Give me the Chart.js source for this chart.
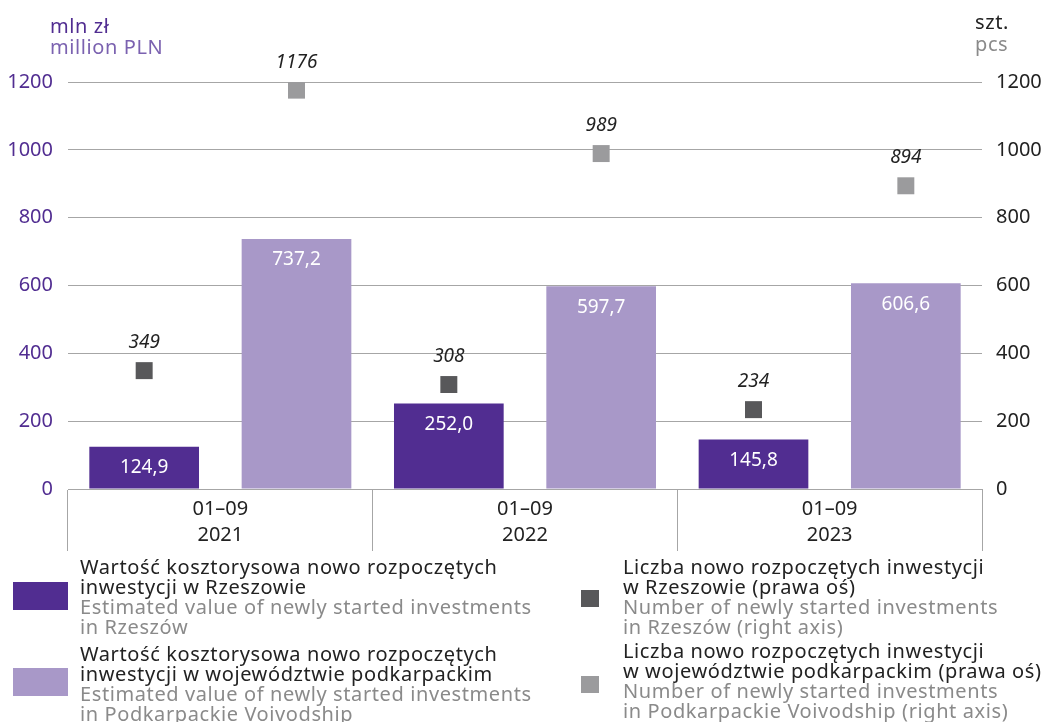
<!DOCTYPE html>
<html>
<head>
<meta charset="utf-8">
<script src="https://cdn.jsdelivr.net/npm/chart.js@4"></script>
<style>
    body { margin: 0; background: #fff; font-family: "Noto Sans", sans-serif; }
    #wrap { position: relative; width: 1043px; height: 722px; overflow: hidden; }
    #chart { position: absolute; left: 0; top: 0; }
    .t { position: absolute; font-size: 20px; line-height: 20px; white-space: nowrap; letter-spacing: 0.6px; }
    .pl { color: #222; }
    .en { color: #8a8a8a; }
    .sw { position: absolute; }
</style>
</head>
<body>
<div id="wrap">
    <canvas id="chart" width="1043" height="560"></canvas>

    <div class="t" style="left:50px; top:16px; color:#512d91;">mln zł</div>
    <div class="t" style="left:50px; top:37px; color:#7b62b0;">million PLN</div>
    <div class="t" style="left:975px; top:12px; color:#222;">szt.</div>
    <div class="t" style="left:975px; top:34px; color:#8a8a8a;">pcs</div>

    <div class="sw" style="left:13px; top:582px; width:55px; height:28px; background:#512d91;"></div>
    <div class="t" style="left:80px; top:557px;">
        <div class="pl">Wartość kosztorysowa nowo rozpoczętych</div>
        <div class="pl">inwestycji w Rzeszowie</div>
        <div class="en">Estimated value of newly started investments</div>
        <div class="en">in Rzeszów</div>
    </div>

    <div class="sw" style="left:13px; top:668px; width:55px; height:28px; background:#a898c8;"></div>
    <div class="t" style="left:80px; top:644px;">
        <div class="pl">Wartość kosztorysowa nowo rozpoczętych</div>
        <div class="pl">inwestycji w województwie podkarpackim</div>
        <div class="en">Estimated value of newly started investments</div>
        <div class="en">in Podkarpackie Voivodship</div>
    </div>

    <div class="sw" style="left:581px; top:590px; width:18px; height:17px; background:#58585a;"></div>
    <div class="t" style="left:623px; top:557px;">
        <div class="pl">Liczba nowo rozpoczętych inwestycji</div>
        <div class="pl">w Rzeszowie (prawa oś)</div>
        <div class="en">Number of newly started investments</div>
        <div class="en">in Rzeszów (right axis)</div>
    </div>

    <div class="sw" style="left:581px; top:676px; width:18px; height:17px; background:#9b9b9d;"></div>
    <div class="t" style="left:623px; top:641px;">
        <div class="pl">Liczba nowo rozpoczętych inwestycji</div>
        <div class="pl">w województwie podkarpackim (prawa oś)</div>
        <div class="en">Number of newly started investments</div>
        <div class="en">in Podkarpackie Voivodship (right axis)</div>
    </div>
</div>

<script>
const periods = ['01–09', '01–09', '01–09'];
const years = ['2021', '2022', '2023'];
const valueRzeszow = [124.9, 252.0, 145.8];
const valuePodkarpackie = [737.2, 597.7, 606.6];
const countRzeszow = [349, 308, 234];
const countPodkarpackie = [1176, 989, 894];
const axisTicks = [0, 200, 400, 600, 800, 1000, 1200];

const categories = years.map((y, i) => [periods[i], y]);
// hidden axis: one slot per series in each year, bars and markers share it
const slots = years.flatMap(y => [y + '-rz', y + '-pk']);
const rzSlot = i => slots[i * 2];
const pkSlot = i => slots[i * 2 + 1];

const fontName = '"Noto Sans", sans-serif';

const labelsPlugin = {
    id: 'valueLabels',
    afterDatasetsDraw(chart) {
        const ctx = chart.ctx;
        ctx.save();
        ctx.textAlign = 'center';
        ctx.textBaseline = 'middle';
        chart.data.datasets.forEach((ds, di) => {
            const meta = chart.getDatasetMeta(di);
            meta.data.forEach((el, i) => {
                const v = ds.data[i].y;
                if (ds.type === 'bar') {
                    ctx.font = '19px ' + fontName;
                    ctx.fillStyle = '#fff';
                    ctx.fillText(v.toFixed(1).replace('.', ','), el.x, el.y + 21);
                } else {
                    ctx.font = 'italic 19px ' + fontName;
                    ctx.fillStyle = '#222';
                    ctx.fillText(String(v), el.x, el.y - 28);
                }
            });
        });
        ctx.restore();
    }
};

const barCommon = {
    type: 'bar',
    xAxisID: 'x2',
    yAxisID: 'y',
    grouped: false,
    categoryPercentage: 1.0,
    barPercentage: 0.72
};

const pointCommon = {
    type: 'line',
    showLine: false,
    pointStyle: 'rect',
    pointRadius: 12,
    pointBorderWidth: 0,
    xAxisID: 'x2',
    yAxisID: 'y2'
};

new Chart(document.getElementById('chart'), {
    type: 'bar',
    data: {
        labels: categories,
        datasets: [{
            ...barCommon,
            label: 'Wartość kosztorysowa nowo rozpoczętych inwestycji w Rzeszowie',
            data: valueRzeszow.map((v, i) => ({ x: rzSlot(i), y: v })),
            backgroundColor: '#512d91'
        }, {
            ...barCommon,
            label: 'Wartość kosztorysowa nowo rozpoczętych inwestycji w województwie podkarpackim',
            data: valuePodkarpackie.map((v, i) => ({ x: pkSlot(i), y: v })),
            backgroundColor: '#a898c8'
        }, {
            ...pointCommon,
            label: 'Liczba nowo rozpoczętych inwestycji w Rzeszowie (prawa oś)',
            data: countRzeszow.map((v, i) => ({ x: rzSlot(i), y: v })),
            backgroundColor: '#58585a'
        }, {
            ...pointCommon,
            label: 'Liczba nowo rozpoczętych inwestycji w województwie podkarpackim (prawa oś)',
            data: countPodkarpackie.map((v, i) => ({ x: pkSlot(i), y: v })),
            backgroundColor: '#9b9b9d'
        }]
    },
    options: {
        responsive: false,
        animation: false,
        layout: { padding: { top: 82, bottom: 5, left: 0, right: 0 } },
        plugins: {
            legend: { display: false },
            tooltip: { enabled: false }
        },
        scales: {
            x: {
                type: 'category',
                labels: categories,
                offset: true,
                grid: {
                    offset: true,
                    drawOnChartArea: false,
                    drawTicks: true,
                    tickLength: 62,
                    color: '#a6a6a6'
                },
                border: { display: true, color: '#a6a6a6' },
                ticks: {
                    color: '#222',
                    font: { family: fontName, size: 20, lineHeight: 1.3 },
                    padding: -55,
                    maxRotation: 0
                },
                afterFit: s => { s.height = 66; }
            },
            x2: {
                type: 'category',
                labels: slots,
                offset: true,
                display: false
            },
            y: {
                position: 'left',
                min: 0,
                max: 1200,
                afterBuildTicks: s => { s.ticks = axisTicks.map(v => ({ value: v })); },
                grid: { color: '#a6a6a6', drawTicks: false },
                border: { display: false },
                ticks: {
                    color: '#512d91',
                    font: { family: fontName, size: 20 },
                    padding: 15,
                    callback: v => String(v)
                },
                afterFit: s => { s.width = 68; }
            },
            y2: {
                position: 'right',
                min: 0,
                max: 1200,
                afterBuildTicks: s => { s.ticks = axisTicks.map(v => ({ value: v })); },
                grid: { drawOnChartArea: false, drawTicks: false },
                border: { display: false },
                ticks: {
                    color: '#222',
                    font: { family: fontName, size: 20 },
                    padding: 14,
                    callback: v => String(v)
                },
                afterFit: s => { s.width = 61; }
            }
        }
    },
    plugins: [labelsPlugin]
});
</script>
</body>
</html>
